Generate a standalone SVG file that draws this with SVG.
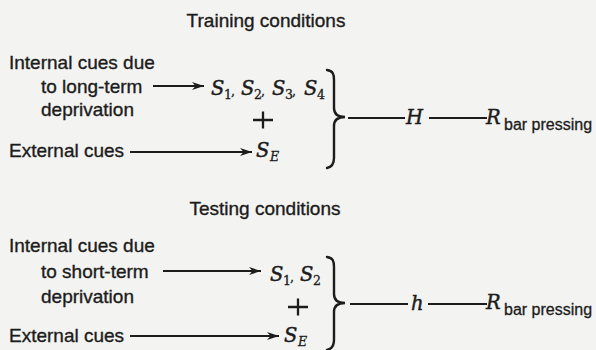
<svg xmlns="http://www.w3.org/2000/svg" width="596" height="350" viewBox="0 0 596 350">
  <defs>
    <style>
      .sans { font-family: "Liberation Sans", Arial, sans-serif; font-size: 19px; fill: #1c1c1c; stroke: #1c1c1c; stroke-width: 0.35; }
      .title { text-anchor: middle; }
      .math { font-family: "DejaVu Serif", "Liberation Serif", serif; font-style: italic; font-size: 19.5px; fill: #1c1c1c; stroke: #1c1c1c; stroke-width: 0.45; }
      .sub { font-family: "DejaVu Serif", "Liberation Serif", serif; font-size: 12.5px; fill: #1c1c1c; stroke: #1c1c1c; stroke-width: 0.3; }
      .subi { font-family: "DejaVu Serif", "Liberation Serif", serif; font-style: italic; font-size: 12.5px; fill: #1c1c1c; stroke: #1c1c1c; stroke-width: 0.3; }
      .subs { font-family: "Liberation Sans", Arial, sans-serif; font-size: 16px; fill: #1c1c1c; stroke: #1c1c1c; stroke-width: 0.3; }
      .wire { stroke: #1c1c1c; stroke-width: 1.8; fill: none; }
      .brace { stroke: #1c1c1c; stroke-width: 2.4; fill: none; stroke-linecap: round; }
      .plus { stroke: #1c1c1c; stroke-width: 2.3; fill: none; }
    </style>
    <marker id="head" markerUnits="userSpaceOnUse" markerWidth="13" markerHeight="10" refX="12" refY="4.5" orient="auto">
      <path d="M0,0.5 L12,4.5 L0,8.5 L3.5,4.5 Z" fill="#1c1c1c"/>
    </marker>
  </defs>
  <rect width="596" height="350" fill="#f3f3f1"/>

  <!-- Training conditions -->
  <g id="training-title">
    <text class="sans title" x="266" y="27">Training conditions</text>
  </g>
  <g id="training-internal">
    <text class="sans" x="9" y="69">Internal cues due</text>
    <text class="sans" x="41" y="93">to long-term</text>
    <text class="sans" x="41" y="116">deprivation</text>
  </g>
  <g id="training-external">
    <text class="sans" x="9" y="157">External cues</text>
  </g>
  <g id="training-stimuli">
    <text class="math" x="211" y="95">S</text><text class="sub" x="224" y="99">1</text><text class="sub" x="231" y="95">,</text>
    <text class="math" x="241" y="95">S</text><text class="sub" x="254" y="99">2</text><text class="sub" x="261" y="95">,</text>
    <text class="math" x="272" y="95">S</text><text class="sub" x="285" y="99">3</text><text class="sub" x="292" y="95">,</text>
    <text class="math" x="304" y="95">S</text><text class="sub" x="317" y="99">4</text>
    <path class="plus" d="M253,120 H273 M263,111.5 V128.5"/>
    <text class="math" x="256" y="157">S</text><text class="subi" x="270" y="161">E</text>
  </g>
  <g id="training-habit">
    <text class="math" x="406" y="124">H</text>
  </g>
  <g id="training-response">
    <text class="math" x="486" y="124">R</text><text class="subs" x="504" y="130">bar pressing</text>
  </g>

  <!-- Testing conditions -->
  <g id="testing-title">
    <text class="sans title" x="265" y="215">Testing conditions</text>
  </g>
  <g id="testing-internal">
    <text class="sans" x="9" y="252">Internal cues due</text>
    <text class="sans" x="41" y="278">to short-term</text>
    <text class="sans" x="41" y="303">deprivation</text>
  </g>
  <g id="testing-external">
    <text class="sans" x="9" y="342">External cues</text>
  </g>
  <g id="testing-stimuli">
    <text class="math" x="270" y="281">S</text><text class="sub" x="283" y="285">1</text><text class="sub" x="290" y="281">,</text>
    <text class="math" x="300" y="281">S</text><text class="sub" x="313" y="285">2</text>
    <path class="plus" d="M288,307 H308 M298,298.5 V315.5"/>
    <text class="math" x="284" y="342">S</text><text class="subi" x="298" y="346">E</text>
  </g>
  <g id="testing-habit">
    <text class="math" x="411" y="310">h</text>
  </g>
  <g id="testing-response">
    <text class="math" x="486" y="309">R</text><text class="subs" x="504" y="315">bar pressing</text>
  </g>

  <!-- connectors: arrows, braces and joining lines -->
  <g id="connectors">
    <line class="wire" x1="153" y1="86" x2="204" y2="86" marker-end="url(#head)"/>
    <line class="wire" x1="130" y1="152" x2="252" y2="152" marker-end="url(#head)"/>
    <path class="brace" d="M327,70 C333,71 334,74 334,80 L334,108 C334,114 338,117 345,117 C338,117 334,120 334,126 L334,158 C334,164 332,167 327,168"/>
    <line class="wire" x1="348" y1="118" x2="405" y2="118"/>
    <line class="wire" x1="429" y1="118" x2="487" y2="118"/>

    <line class="wire" x1="163" y1="271" x2="261" y2="271" marker-end="url(#head)"/>
    <line class="wire" x1="130" y1="336" x2="279" y2="336" marker-end="url(#head)"/>
    <path class="brace" d="M327,257 C333,258 334,261 334,267 L334,294 C334,300 338,303 345,303 C338,303 334,306 334,312 L334,340 C334,346 332,349 327,350"/>
    <line class="wire" x1="350" y1="304" x2="408" y2="304"/>
    <line class="wire" x1="428" y1="304" x2="487" y2="304"/>
  </g>
</svg>
